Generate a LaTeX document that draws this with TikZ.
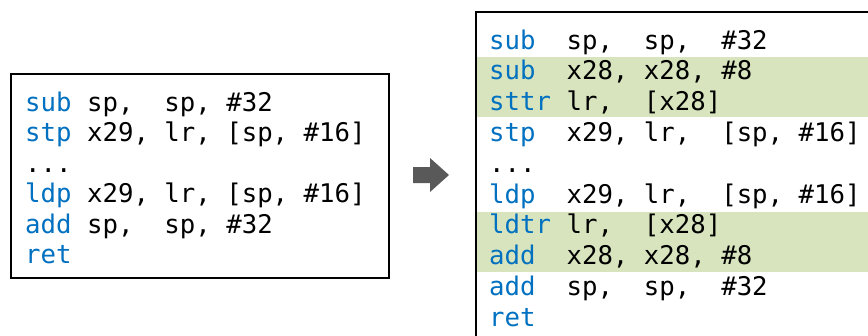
\documentclass[tikz,border=0pt]{standalone}
\usepackage{fontspec}
\setmonofont{DejaVu Sans Mono}
\definecolor{kw}{HTML}{0070C0}
\definecolor{hl}{HTML}{D7E4BD}
\definecolor{arrowgray}{HTML}{595959}
\newcommand{\op}[1]{\textcolor{kw}{#1}}

\begin{document}
\begin{tikzpicture}[x=1pt,y=-1pt,
  code/.style={anchor=base west, inner sep=0pt,
    font=\ttfamily\fontsize{25.7}{30.8}\selectfont},
  frame/.style={draw=black, line width=2pt},
  band/.style={fill=hl, draw=none}]
\useasboundingbox (0,0) rectangle (868,335);

% original prologue / epilogue
\node[frame, minimum width=378pt, minimum height=204pt, inner sep=0pt,
      anchor=north west] (orig) at (10,73) {};
\node[code] (o1) at (25,111)   {\op{sub}~sp,~~sp,~\#32};
\node[code] (o2) at (25,141.5) {\op{stp}~x29,~lr,~[sp,~\#16]};
\node[code] (o3) at (25,172)   {...};
\node[code] (o4) at (25,202.5) {\op{ldp}~x29,~lr,~[sp,~\#16]};
\node[code] (o5) at (25,233)   {\op{add}~sp,~~sp,~\#32};
\node[code] (o6) at (25,263.5) {\op{ret}};

% transformation arrow
\fill[arrowgray] (413,167) -- (430,167) -- (430,158) -- (449,175)
  -- (430,192) -- (430,183) -- (413,183) -- cycle;

% instrumented version (box runs past the page)
\begin{scope}
\clip (0,0) rectangle (868,335);
\fill[band] (476,57) rectangle (880,117);
\fill[band] (476,212) rectangle (880,272);
\node[frame, minimum width=420pt, minimum height=350pt, inner sep=0pt,
      anchor=north west] (inst) at (475,11) {};
\end{scope}
\node[code] (n1)  at (489,49)    {\op{sub}~~sp,~~sp,~~\#32};
\node[code] (n2)  at (489,79.8)  {\op{sub}~~x28,~x28,~\#8};
\node[code] (n3)  at (489,110.6) {\op{sttr}~lr,~~[x28]};
\node[code] (n4)  at (489,141.4) {\op{stp}~~x29,~lr,~~[sp,~\#16]};
\node[code] (n5)  at (489,172.2) {...};
\node[code] (n6)  at (489,203)   {\op{ldp}~~x29,~lr,~~[sp,~\#16]};
\node[code] (n7)  at (489,233.8) {\op{ldtr}~lr,~~[x28]};
\node[code] (n8)  at (489,264.6) {\op{add}~~x28,~x28,~\#8};
\node[code] (n9)  at (489,295.4) {\op{add}~~sp,~~sp,~~\#32};
\node[code] (n10) at (489,326.2) {\op{ret}};
\end{tikzpicture}
\end{document}
